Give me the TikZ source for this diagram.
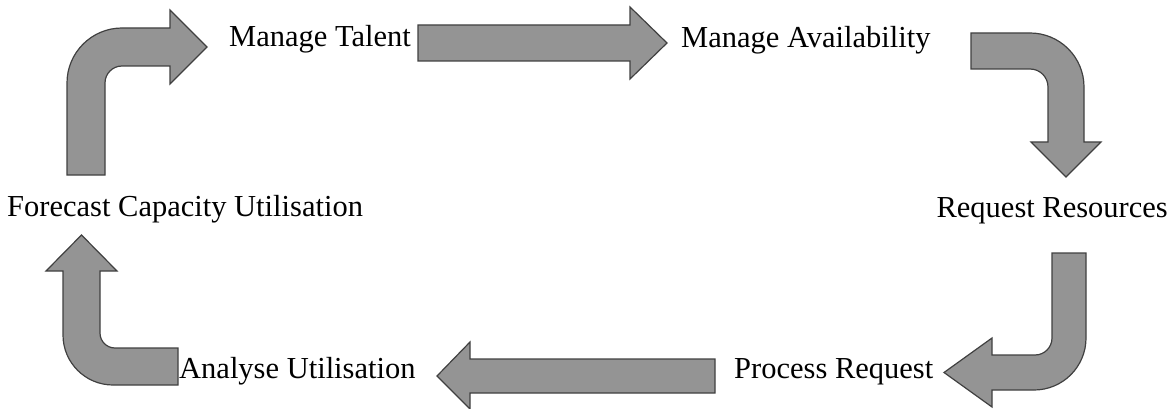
\documentclass[tikz,border=0pt]{standalone}
\usepackage{fontspec}
\setmainfont{Liberation Serif}
\begin{document}
\begin{tikzpicture}[x=1pt,y=-1pt,
  label/.style={inner sep=0pt, font=\fontsize{30.5}{36}\selectfont, text=black},
  blockarrow/.style={fill=black!42, draw=black!75, line width=1.2pt, line join=miter}]
\useasboundingbox (0,0) rectangle (1175,409);

% stage labels
\node[label, anchor=base west] (talent)   at (229,47)  {Manage Talent};
\node[label, anchor=base west] (avail)    at (681,48)  {Manage Availability};
\node[label, anchor=base east] (request)  at (1168,217) {Request Resources};
\node[label, anchor=base west] (process)  at (734,378) {Process Request};
\node[label, anchor=base west] (analyse)  at (179,378) {Analyse Utilisation};
\node[label, anchor=base west] (forecast) at (7,216)   {Forecast Capacity Utilisation};

% forecast -> talent: up, then right (arc radii in pt, angles on the page)
\draw[blockarrow] (67,175) -- (67,83) arc[start angle=180, end angle=90, radius=55pt]
  -- (170,28) -- (170,10) -- (207,47) -- (170,84) -- (170,66) -- (122,66)
  arc[start angle=90, end angle=180, radius=17pt] -- (105,175) -- cycle;

% talent -> availability
\draw[blockarrow] (418,25) -- (630,25) -- (630,7) -- (667,43) -- (630,79) -- (630,61)
  -- (418,61) -- cycle;

% availability -> request: right, then down
\draw[blockarrow] (971,33) -- (1030,33) arc[start angle=90, end angle=0, radius=54pt]
  -- (1084,142) -- (1101,142) -- (1066,177) -- (1031,142) -- (1048,142) -- (1048,87)
  arc[start angle=0, end angle=90, radius=18pt] -- (971,69) -- cycle;

% request -> process: down, then left
\draw[blockarrow] (1052,253) -- (1086,253) -- (1086,338)
  arc[start angle=0, end angle=-90, radius=52pt]
  -- (992,390) -- (992,407) -- (944,372.5) -- (992,338) -- (992,355) -- (1035,355)
  arc[start angle=-90, end angle=0, radius=17pt] -- cycle;

% process -> analyse
\draw[blockarrow] (715,359) -- (470,359) -- (470,342) -- (437,376) -- (470,409) -- (470,393)
  -- (715,393) -- cycle;

% analyse -> forecast: left, then up
\draw[blockarrow] (178,348) -- (178,385) -- (113,385)
  arc[start angle=270, end angle=180, radius=50pt]
  -- (63,271) -- (46,271) -- (81.5,235) -- (117,271) -- (100,271) -- (100,333)
  arc[start angle=180, end angle=270, radius=15pt] -- cycle;
\end{tikzpicture}
\end{document}
